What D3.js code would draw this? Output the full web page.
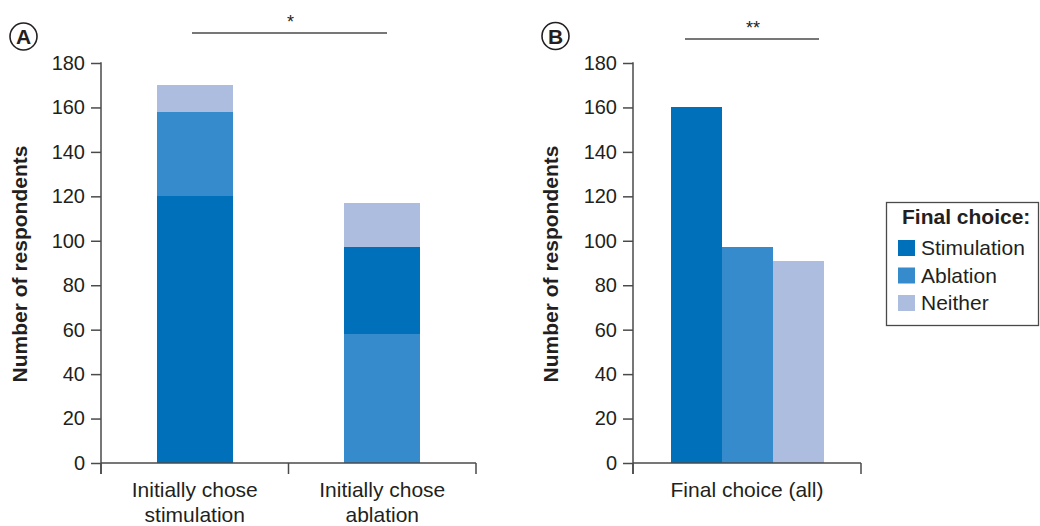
<!DOCTYPE html>
<html>
<head>
<meta charset="utf-8">
<script src="https://cdn.jsdelivr.net/npm/d3@7"></script>
<style>
  body { margin: 0; background: #fff; }
  svg text { font-family: "Liberation Sans", Arial, Helvetica, sans-serif; fill: #231f20; }
</style>
</head>
<body>
<div id="chart"></div>
<script>
// data
const series = ["Stimulation", "Ablation", "Neither"];
const colors = ["#0070ba", "#358bcb", "#adbde0"];
const groupsA = ["Initially chose stimulation", "Initially chose ablation"];
// stacking order: the choice they started with sits at the bottom
const stackOrderA = [
  ["Stimulation", "Ablation", "Neither"],
  ["Ablation", "Stimulation", "Neither"],
];
const valuesA = [
  { Stimulation: 120, Ablation: 38, Neither: 12 },
  { Stimulation: 39, Ablation: 58, Neither: 20 },
];
const groupB = ["Final choice (all)"];
const valuesB = [160, 97, 91];
const yTicks = [0, 20, 40, 60, 80, 100, 120, 140, 160, 180];

const W = 1040, H = 526;
const color = d3.scaleOrdinal().domain(series).range(colors);
const axisColor = "#4a4a4a";

const svg = d3.select("#chart").append("svg")
  .attr("width", W).attr("height", H);

const y = d3.scaleLinear().domain([0, 180]).range([463, 63]);

function drawYAxis(x0, titleX) {
  const g = svg.append("g").attr("transform", `translate(${x0},0)`);
  g.call(d3.axisLeft(y).tickValues(yTicks).tickSize(10).tickPadding(6));
  g.select(".domain").remove();
  g.selectAll(".tick line").attr("stroke", axisColor).attr("stroke-width", 1.5);
  g.selectAll(".tick text").style("font-size", "20px").attr("fill", "#231f20");
  // vertical line, runs past 0 down to the category ticks
  g.append("line").attr("x1", 0).attr("x2", 0)
    .attr("y1", y(180) - 0.75).attr("y2", y(0) + 11)
    .attr("stroke", axisColor).attr("stroke-width", 1.5);

  svg.append("text")
    .attr("transform", `translate(${titleX},${(y(0) + y(180)) / 2 + 1}) rotate(-90)`)
    .attr("text-anchor", "middle")
    .style("font-size", "21px").style("font-weight", "bold")
    .text("Number of respondents");
}

function drawXAxis(x0, x1, bounds) {
  svg.append("line").attr("x1", x0).attr("x2", x1)
    .attr("y1", y(0)).attr("y2", y(0))
    .attr("stroke", axisColor).attr("stroke-width", 1.5);
  svg.selectAll(null).data(bounds).enter().append("line")
    .attr("x1", d => d).attr("x2", d => d)
    .attr("y1", y(0)).attr("y2", y(0) + 11)
    .attr("stroke", axisColor).attr("stroke-width", 1.5);
}

function categoryLabel(cx, txt) {
  // split after "chose" so it wraps like the original
  const lines = txt.startsWith("Initially chose ")
    ? ["Initially chose", txt.replace("Initially chose ", "")]
    : [txt];
  const t = svg.append("text").attr("text-anchor", "middle")
    .style("font-size", "21px");
  lines.forEach((l, i) => {
    t.append("tspan").attr("x", cx).attr("y", 497 + i * 25).text(l);
  });
}

function panelLetter(cx, cy, letter) {
  svg.append("circle").attr("cx", cx).attr("cy", cy).attr("r", 13.5)
    .attr("fill", "none").attr("stroke", "#231f20").attr("stroke-width", 1.6);
  svg.append("text").attr("x", cx).attr("y", cy + 7.5)
    .attr("text-anchor", "middle")
    .style("font-size", "21px").style("font-weight", "bold")
    .text(letter);
}

function sigBar(x0, x1, ly, stars) {
  svg.append("line").attr("x1", x0).attr("x2", x1)
    .attr("y1", ly).attr("y2", ly)
    .attr("stroke", "#4a4a4a").attr("stroke-width", 1.5);
  svg.append("text").attr("x", (x0 + x1) / 2 + 1).attr("y", ly - 5)
    .attr("text-anchor", "middle").style("font-size", "18px")
    .text(stars);
}

/* Panel A - stacked */
const xA = d3.scaleBand().domain(groupsA).range([101, 476]).padding(0);
const barWA = xA.bandwidth() * 0.405;

groupsA.forEach((grp, i) => {
  const order = stackOrderA[i];
  const st = d3.stack().keys(order)([valuesA[i]]);
  const cx = xA(grp) + xA.bandwidth() / 2;
  svg.append("g").attr("shape-rendering", "crispEdges")
    .selectAll("rect").data(st).enter().append("rect")
    .attr("x", cx - barWA / 2)
    .attr("width", barWA)
    .attr("y", d => y(d[0][1]))
    .attr("height", d => y(d[0][0]) - y(d[0][1]))
    .attr("fill", d => color(d.key));
  categoryLabel(cx, grp);
});

drawXAxis(101, 476, [101, xA(groupsA[1]), 476]);
drawYAxis(101, 27);
panelLetter(23.5, 36.5, "A");
sigBar(192, 387, 33, "*");

/* Panel B - grouped */
const xB = d3.scaleBand().domain(groupB).range([633, 861]).padding(0);
const cB = xB(groupB[0]) + xB.bandwidth() / 2;
const xB1 = d3.scaleBand().domain(series).range([cB - 76.5, cB + 76.5]).padding(0);

svg.append("g").attr("shape-rendering", "crispEdges")
  .selectAll("rect").data(series).enter().append("rect")
  .attr("x", d => xB1(d))
  .attr("width", xB1.bandwidth())
  .attr("y", (d, i) => y(valuesB[i]))
  .attr("height", (d, i) => y(0) - y(valuesB[i]))
  .attr("fill", d => color(d));
categoryLabel(cB, groupB[0]);

drawXAxis(633, 861, [633, 861]);
drawYAxis(633, 558);
panelLetter(555.5, 36, "B");
sigBar(685, 819, 39, "**");

/* Legend */
const lg = svg.append("g").attr("transform", "translate(886,202)");
lg.append("rect").attr("x", 0.5).attr("y", 0.5).attr("width", 152).attr("height", 123)
  .attr("fill", "#fff").attr("stroke", "#4a4a4a").attr("stroke-width", 1.3);
lg.append("text").attr("x", 16).attr("y", 22)
  .style("font-size", "21px").style("font-weight", "bold")
  .text("Final choice:");
const items = lg.selectAll(".item").data(series).enter().append("g")
  .attr("transform", (d, i) => `translate(12,${38 + i * 27.5})`);
items.append("rect").attr("width", 17).attr("height", 16)
  .attr("fill", d => color(d));
items.append("text").attr("x", 23).attr("y", 15)
  .style("font-size", "21px")
  .text(d => d);
</script>
</body>
</html>
